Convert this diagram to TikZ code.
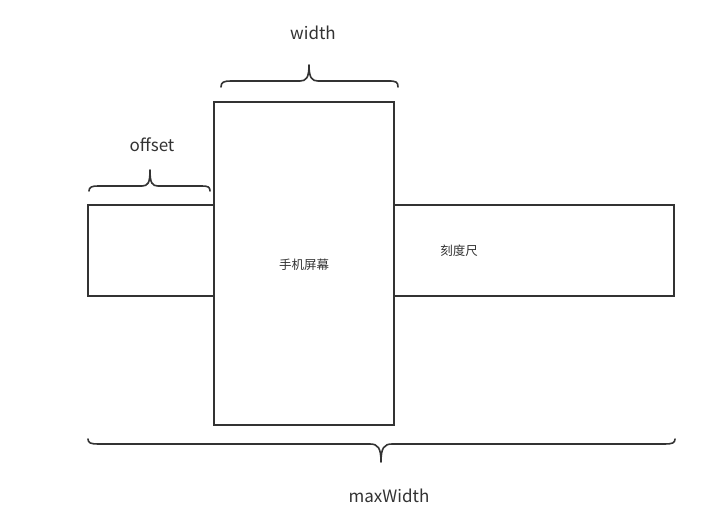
\documentclass[tikz,border=0pt]{standalone}
\usepackage{fontspec}
\setmainfont{Noto Sans CJK SC}
\definecolor{ink}{HTML}{333333}
\begin{document}
\begin{tikzpicture}[x=1pt,y=-1pt,
  box/.style={draw=ink,line width=1.6pt,fill=white},
  bracepath/.style={draw=ink,line width=1.6pt,line cap=round,line join=round},
  lbl/.style={text=ink,font=\fontsize{17}{20}\selectfont,inner sep=0pt},
  cjk/.style={text=ink,font=\fontsize{12.5}{15}\selectfont,inner sep=0pt}]
\useasboundingbox[fill=white] (0,0) rectangle (727,505);
% ruler
\draw[box] (88,205) rectangle (674,296);
% phone
\draw[box] (214,102) rectangle (394,425);
\node[cjk] (phone) at (304,265) {手机屏幕};
\node[cjk] (ruler) at (459,251) {刻度尺};
% width brace
\draw[bracepath] (221,87) .. controls (221,82) and (224,81) .. (231,81) -- (300,81)
  .. controls (306,81) and (309,78) .. (309,65)
  .. controls (309,78) and (312,81) .. (318,81) -- (389,81)
  .. controls (396,81) and (398,82) .. (398,87);
\node[lbl] (w) at (313,33) {width};
% offset brace
\draw[bracepath] (89,191) .. controls (89,187) and (92,186) .. (98,186) -- (142,186)
  .. controls (148,186) and (150,183) .. (150,170)
  .. controls (150,183) and (152,186) .. (158,186) -- (202,186)
  .. controls (208,186) and (210,187) .. (210,191);
\node[lbl] (o) at (152,145) {offset};
% maxWidth brace
\draw[bracepath] (88,439) .. controls (88,443) and (91,444) .. (98,444) -- (370,444)
  .. controls (378,444) and (381,448) .. (381,462)
  .. controls (381,448) and (384,444) .. (392,444) -- (665,444)
  .. controls (672,444) and (675,443) .. (675,439);
\node[lbl] (m) at (389,496) {maxWidth};
\end{tikzpicture}
\end{document}
